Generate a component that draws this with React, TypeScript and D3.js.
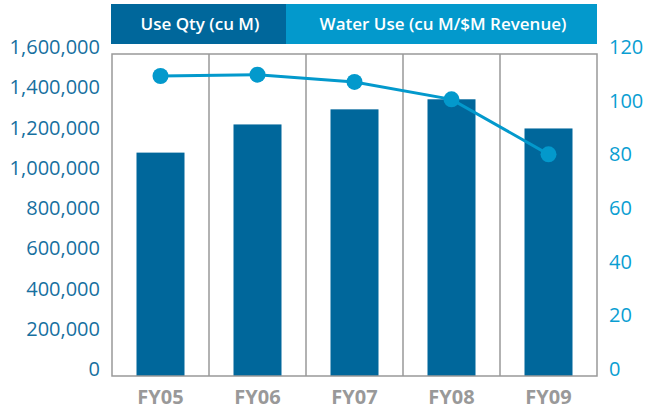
import React from "react";
import * as d3 from "d3";

const categories = ["FY05", "FY06", "FY07", "FY08", "FY09"];
const useQty = [1110000, 1250000, 1325000, 1375000, 1230000];
const waterUse = [111.8, 112.3, 109.6, 103.1, 82.6];
const leftTicks = [0, 200000, 400000, 600000, 800000, 1000000, 1200000, 1400000, 1600000];
const rightTicks = [0, 20, 40, 60, 80, 100, 120];
const legendLabels = ["Use Qty (cu M)", "Water Use (cu M/$M Revenue)"];

const W = 653;
const H = 411;
const left = 112;
const right = 597;
const top = 54;
const bottom = 376;
const dark = "#00679B";
const light = "#0399CC";
const font = "'Open Sans', 'Noto Sans', sans-serif";

export default function App() {
  const x = d3.scaleBand<string>().domain(categories).range([left, right]).paddingInner(0).paddingOuter(0);
  const yL = d3.scaleLinear().domain([0, 1600000]).range([bottom, top]);
  const yR = d3.scaleLinear().domain([0, 120]).range([bottom, top]);
  const fmt = d3.format(",");
  const bw = 48;
  const line = d3
    .line<number>()
    .x((_, i) => (x(categories[i]) as number) + x.bandwidth() / 2)
    .y((d) => yR(d));

  return (
    <svg width={W} height={H} style={{ position: "absolute", left: 0, top: 0, display: "block" }}>
      <rect x={0} y={0} width={W} height={H} fill="#fff" />
      {/* legend */}
      <rect x={111} y={4} width={175} height={40} fill={dark} />
      <rect x={286} y={4} width={311} height={40} fill={light} />
      <text x={200} y={29.5} textAnchor="middle" fill="#fff" fontFamily={font} fontWeight={600} fontSize={17}>
        {legendLabels[0]}
      </text>
      <text x={443} y={29.5} textAnchor="middle" fill="#fff" fontFamily={font} fontWeight={600} fontSize={17}>
        {legendLabels[1]}
      </text>
      {/* bars */}
      {categories.map((c, i) => (
        <rect
          key={c}
          x={(x(c) as number) + x.bandwidth() / 2 - bw / 2}
          y={yL(useQty[i])}
          width={bw}
          height={bottom - yL(useQty[i])}
          fill={dark}
        />
      ))}
      {/* frame and dividers */}
      {categories.slice(1).map((c) => (
        <line key={c} x1={x(c)} x2={x(c)} y1={top} y2={bottom} stroke="#999" strokeWidth={1.5} />
      ))}
      <rect x={left} y={top} width={right - left} height={bottom - top} fill="none" stroke="#999" strokeWidth={1.5} />
      {/* line */}
      <path d={line(waterUse) || ""} fill="none" stroke={light} strokeWidth={3} />
      {waterUse.map((v, i) => (
        <circle key={i} cx={(x(categories[i]) as number) + x.bandwidth() / 2} cy={yR(v)} r={8} fill={light} />
      ))}
      {/* left axis */}
      {leftTicks.map((t) => (
        <text key={t} x={100} y={yL(t)} textAnchor="end" fill="#17709F" fontFamily={font} fontSize={20}>
          {fmt(t)}
        </text>
      ))}
      {/* right axis */}
      {rightTicks.map((t) => (
        <text key={t} x={609} y={yR(t)} textAnchor="start" fill="#0A9ED2" fontFamily={font} fontSize={20}>
          {t}
        </text>
      ))}
      {/* x labels */}
      {categories.map((c) => (
        <text
          key={c}
          x={(x(c) as number) + x.bandwidth() / 2}
          y={404}
          textAnchor="middle"
          fill="#999"
          fontFamily={font}
          fontWeight={700}
          fontSize={20}
        >
          {c}
        </text>
      ))}
    </svg>
  );
}
